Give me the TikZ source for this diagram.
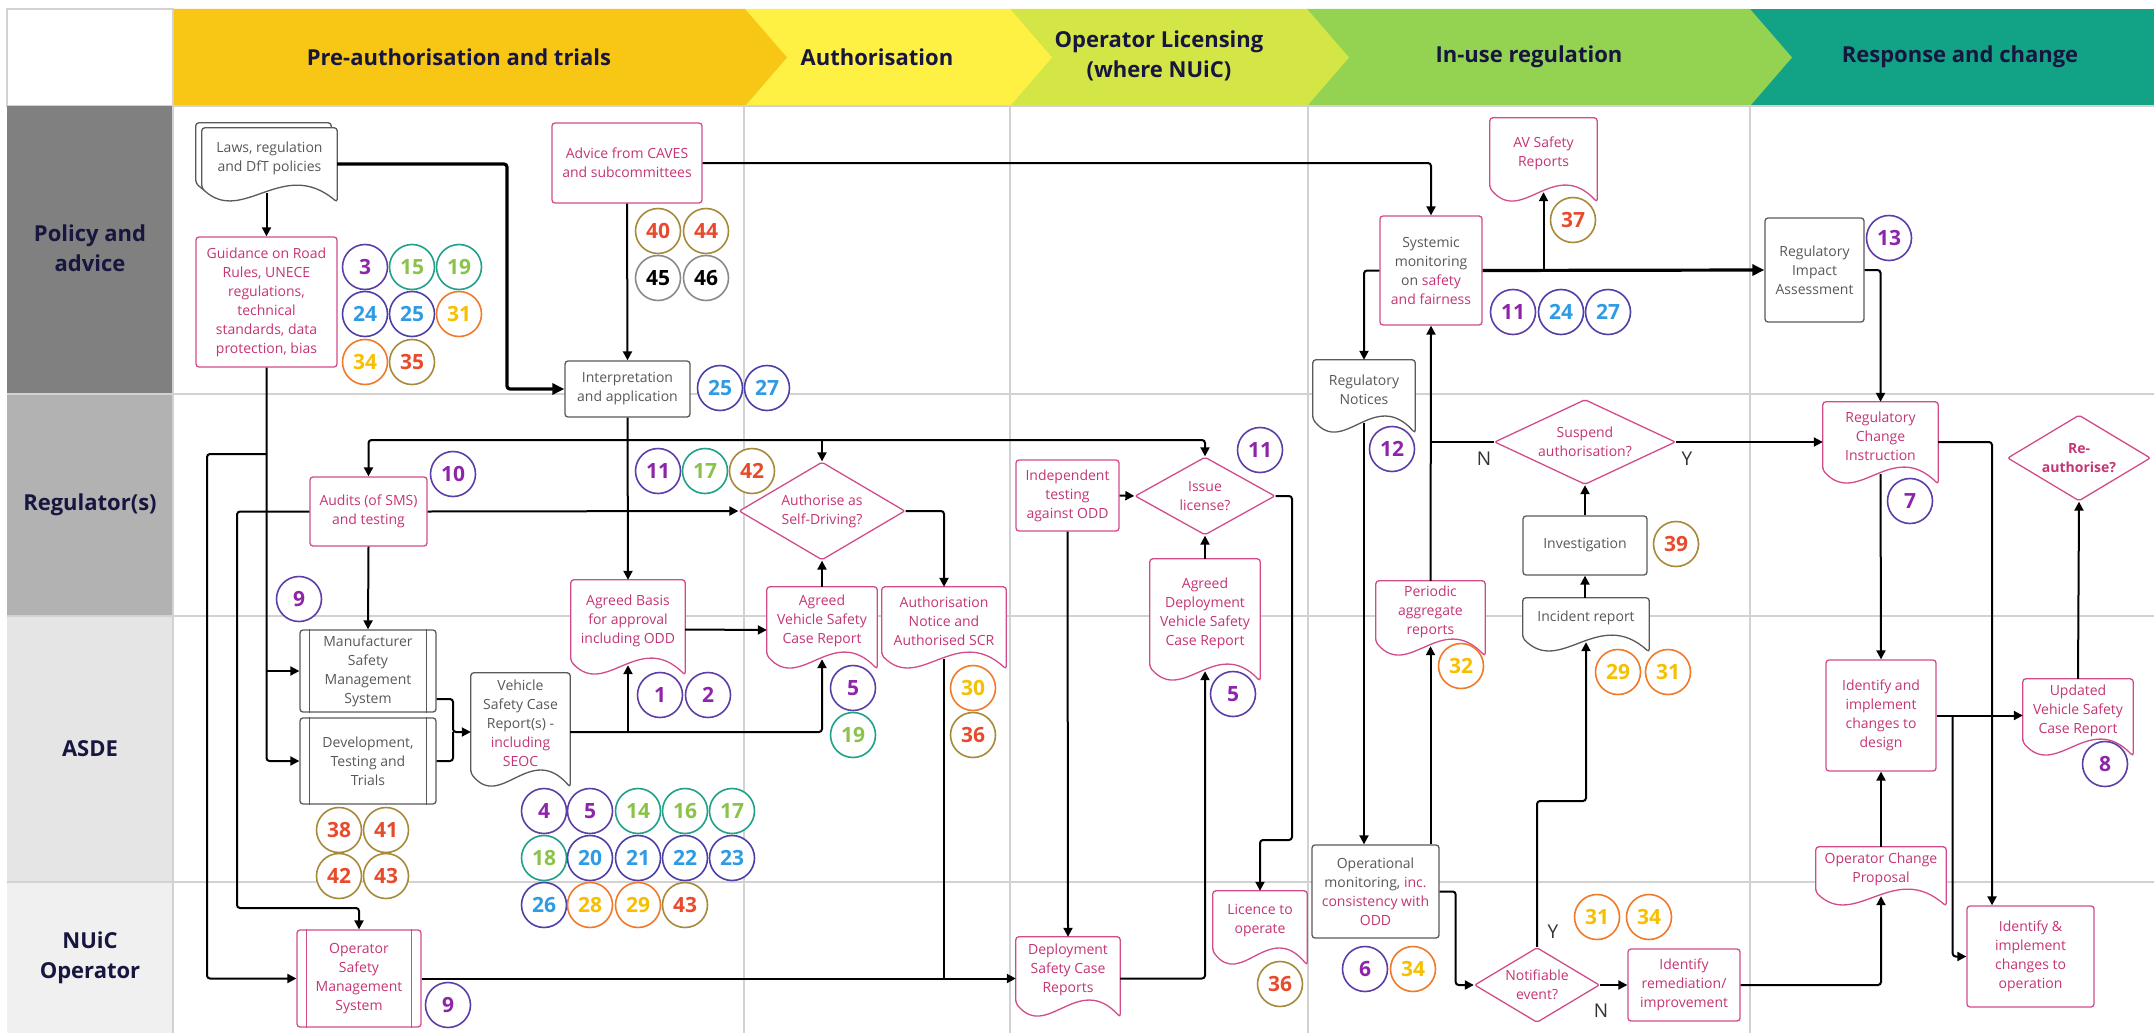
\documentclass[tikz,border=0pt]{standalone}
\usepackage{fontspec}
\setmainfont{Open Sans}
\usetikzlibrary{shapes.geometric,arrows.meta,calc,positioning}

\definecolor{hpreC}{HTML}{F8C614}
\definecolor{hauthC}{HTML}{FFF143}
\definecolor{hlicC}{HTML}{D4E646}
\definecolor{huseC}{HTML}{93D351}
\definecolor{hrespC}{HTML}{12A386}
\definecolor{navy}{HTML}{16163F}
\definecolor{pinkline}{HTML}{D24C8C}
\definecolor{pinktext}{HTML}{C43575}
\definecolor{greyline}{HTML}{5A5A5A}
\definecolor{greytext}{HTML}{585858}
\definecolor{gridC}{HTML}{D2D2D2}
\definecolor{cpurB}{HTML}{5B3EA8}
\definecolor{cpurT}{HTML}{8E24AA}
\definecolor{cgrnB}{HTML}{1EA08A}
\definecolor{cgrnT}{HTML}{8BC34A}
\definecolor{cbluB}{HTML}{4B3FA8}
\definecolor{cbluT}{HTML}{2F9BE3}
\definecolor{corgB}{HTML}{F07A2A}
\definecolor{corgT}{HTML}{F6C000}
\definecolor{credB}{HTML}{A68A3A}
\definecolor{credT}{HTML}{E84A2C}
\definecolor{cgryB}{HTML}{8A8A8A}

\pgfdeclarelayer{back}
\pgfdeclarelayer{shape}
\pgfsetlayers{back,shape,main}

\newcommand{\pk}[1]{\textcolor{pinktext}{#1}}
\newcommand{\docframe}[3][(0pt,0pt)]{%
  \begin{pgfonlayer}{shape}
  \draw[#2, fill=white, line width=1.3pt, rounded corners=3pt]
    ($(#3.south west)+#1$) -- ($(#3.north west)+#1$) -- ($(#3.north east)+#1$)
    -- ($(#3.south east)+(0pt,-14pt)+#1$)
    .. controls ($(#3.south west)!0.6!(#3.south east)+(0pt,32pt)+#1$)
    and ($(#3.south west)!0.3!(#3.south east)+(0pt,-38pt)+#1$) .. ($(#3.south west)+#1$) -- cycle;
  \end{pgfonlayer}}
\newcommand{\sidebars}[2]{\draw[#1, line width=1.3pt] ([xshift=10pt]#2.north west) -- ([xshift=10pt]#2.south west) ([xshift=-10pt]#2.north east) -- ([xshift=-10pt]#2.south east);}

\begin{document}
\begin{tikzpicture}[x=1pt, y=-1pt,
  sz/.style 2 args={minimum width=#1, minimum height=#2},
  box/.style={rectangle, rounded corners=3pt, draw=greyline, line width=1.3pt, fill=white, text=greytext, align=center, inner sep=1pt, font=\fontsize{14}{19}\selectfont},
  pbox/.style={box, draw=pinkline, text=pinktext},
  doc/.style={rectangle, align=center, inner sep=1pt, text=greytext, font=\fontsize{14}{19}\selectfont},
  pdoc/.style={doc, text=pinktext},
  dia/.style={diamond, draw=pinkline, line width=1.3pt, fill=white, inner sep=0pt, rounded corners=2pt},
  dtext/.style={text=pinktext, align=center, inner sep=0pt, font=\fontsize{14}{19}\selectfont},
  num/.style={circle, line width=1.6pt, fill=white, minimum size=45pt, inner sep=0pt, font=\bfseries\fontsize{21}{21}\selectfont},
  np/.style={num, draw=cpurB, text=cpurT},
  ng/.style={num, draw=cgrnB, text=cgrnT},
  nb/.style={num, draw=cbluB, text=cbluT},
  no/.style={num, draw=corgB, text=corgT},
  nr/.style={num, draw=credB, text=credT},
  nk/.style={num, draw=cgryB, text=black},
  head/.style={text=navy, align=center, font=\bfseries\fontsize{22}{30}\selectfont},
  yn/.style={text=black!80, font=\fontsize{19}{19}\selectfont},
  gridline/.style={gridC, line width=1.5pt},
  arr/.style={-{Triangle[length=9pt,width=9pt]}, line width=2pt, rounded corners=3pt},
  tarr/.style={-{Triangle[length=12pt,width=11pt]}, line width=3.2pt, rounded corners=3pt},
  ln/.style={line width=2pt, rounded corners=3pt}]

\useasboundingbox (0,0) rectangle (2154,1033);

\begin{pgfonlayer}{back}
\fill[white] (0,0) rectangle (2154,1033);
\fill[hrespC] (1750,9) rectangle (2154,106);
\fill[huseC] (1307,9) -- (1750,9) -- (1792,57.5) -- (1750,106) -- (1307,106) -- cycle;
\fill[hlicC] (1010,9) -- (1307,9) -- (1349,57.5) -- (1307,106) -- (1010,106) -- cycle;
\fill[hauthC] (745,9) -- (1010,9) -- (1052,57.5) -- (1010,106) -- (745,106) -- cycle;
\fill[hpreC] (174,9) -- (745,9) -- (787,57.5) -- (745,106) -- (174,106) -- cycle;
\draw[gridline] (7,9) rectangle (173,106);
\fill[black!50] (7,106) rectangle (173,394);
\fill[black!30] (7,394) rectangle (173,616);
\fill[black!10] (7,616) rectangle (173,882);
\fill[black!6] (7,882) rectangle (173,1033);
\draw[gridline] (173,106) -- (2154,106);
\draw[gridline] (7,394) -- (2154,394);
\draw[gridline] (7,616) -- (2154,616);
\draw[gridline] (7,882) -- (2154,882);
\draw[gridline] (173,106) -- (173,1033);
\draw[gridline] (744,106) -- (744,1033);
\draw[gridline] (1010,106) -- (1010,1033);
\draw[gridline] (1308,106) -- (1308,1033);
\draw[gridline] (1750,106) -- (1750,1033);
\end{pgfonlayer}

\node[head] (hpre) at (459,57) {Pre-authorisation and trials};
\node[head] (hauth) at (877,57) {Authorisation};
\node[head] (hlic) at (1159,56) {Operator Licensing\\(where NUiC)};
\node[head] (huse) at (1529,57) {In-use regulation};
\node[head] (hresp) at (1960,57) {Response and change};
\node[head] (lpolicy) at (90,248) {Policy and\\advice};
\node[head] (lreg) at (90,505) {Regulator(s)};
\node[head] (lasde) at (90,749) {ASDE};
\node[head] (lnuic) at (90,958) {NUiC\\Operator};

\node[doc, sz={135}{60}] (laws) at (269.5,158) {Laws, regulation\\and DfT policies};
\node[pbox, sz={141}{130}] (guidance) at (266.5,302) {Guidance on Road\\Rules, UNECE\\regulations,\\technical\\standards, data\\protection, bias};
\node[pbox, sz={150}{80}] (advice) at (627,163) {Advice from CAVES\\and subcommittees};
\node[box, sz={125}{56}] (interp) at (627.5,389) {Interpretation\\and application};
\node[pdoc, sz={107}{70}] (avsafety) at (1543.5,153) {AV Safety\\Reports};
\node[box, draw=pinkline, sz={102}{109}] (systemic) at (1431,270.5) {Systemic\\monitoring\\on \pk{safety}\\\pk{and fairness}};
\node[box, sz={99}{104}] (ria) at (1814.5,270) {Regulatory\\Impact\\Assessment};
\node[doc, sz={102}{59}] (regnotices) at (1364,389.5) {Regulatory\\Notices};

\node[pbox, sz={117}{69}] (audits) at (368.5,511.5) {Audits (of SMS)\\and testing};
\node[dia, sz={166}{98}, label={[dtext]center:Authorise as\\Self-Driving?}] (authorise) at (822,511) {};
\node[pbox, sz={103}{71}] (indep) at (1067.5,495.5) {Independent\\testing\\against ODD};
\node[dia, sz={140}{78}, label={[dtext]center:Issue\\license?}] (issue) at (1205,496) {};
\node[dia, sz={181}{85}, label={[dtext]center:Suspend\\authorisation?}] (suspend) at (1585,442) {};
\node[box, sz={124}{59}] (investig) at (1585,545.5) {Investigation};
\node[pdoc, sz={115}{68}] (regchange) at (1880.5,436) {Regulatory\\Change\\Instruction};
\node[dia, sz={143}{86}, label={[dtext, font=\bfseries\fontsize{14}{19}\selectfont]center:Re-\\authorise?}] (reauth) at (2079,458) {};

\node[box, sz={136}{82}] (mansms) at (368,671) {Manufacturer\\Safety\\Management\\System};
\node[box, sz={136}{86}] (devtest) at (368,761) {Development,\\Testing and\\Trials};
\node[doc, sz={99}{100}] (vscr) at (520.5,723) {Vehicle\\Safety Case\\Report(s) -\\\pk{including}\\\pk{SEOC}};
\node[pdoc, sz={114}{81}] (basis) at (628,620.5) {Agreed Basis\\for approval\\including ODD};
\node[pdoc, sz={110}{68}] (agreedvscr) at (822,621) {Agreed\\Vehicle Safety\\Case Report};
\node[pdoc, sz={124}{68}] (authnotice) at (944,621) {Authorisation\\Notice and\\Authorised SCR};
\node[pdoc, sz={110}{108}] (agreeddeploy) at (1205,613) {Agreed\\Deployment\\Vehicle Safety\\Case Report};
\node[pdoc, sz={109}{61}] (periodic) at (1430.5,611.5) {Periodic\\aggregate\\reports};
\node[doc, sz={126}{40}] (incident) at (1586,618) {Incident report};
\node[pbox, sz={110}{111}] (design) at (1881,715.5) {Identify and\\implement\\changes to\\design};
\node[pdoc, sz={110}{63}] (updated) at (2078,710.5) {Updated\\Vehicle Safety\\Case Report};

\node[pbox, sz={124}{97}] (opsms) at (359,978.5) {Operator\\Safety\\Management\\System};
\node[pdoc, sz={104}{66}] (deployscr) at (1068,970) {Deployment\\Safety Case\\Reports};
\node[pdoc, sz={94}{60}] (licence) at (1260,921) {Licence to\\operate};
\node[box, sz={127}{93}] (opmon) at (1375.5,891.5) {Operational\\monitoring, \pk{inc.}\\\pk{consistency with}\\\pk{ODD}};
\node[dia, sz={125}{75}, label={[dtext]center:Notifiable\\event?}] (notifiable) at (1537,985) {};
\node[pbox, sz={112}{72}] (remed) at (1684,985) {Identify\\remediation/\\improvement};
\node[pdoc, sz={130}{45}] (opchange) at (1881,869.5) {Operator Change\\Proposal};
\node[pbox, sz={127}{101}] (idop) at (2030.5,956.5) {Identify \&\\implement\\changes to\\operation};

\docframe[(-6pt,5pt)]{greyline}{laws}
\docframe{greyline}{laws}
\docframe{pinkline}{avsafety}
\docframe{greyline}{regnotices}
\docframe{pinkline}{regchange}
\docframe{greyline}{vscr}
\docframe{pinkline}{basis}
\docframe{pinkline}{agreedvscr}
\docframe{pinkline}{authnotice}
\docframe{pinkline}{agreeddeploy}
\docframe{pinkline}{periodic}
\docframe{greyline}{incident}
\docframe{pinkline}{updated}
\docframe{pinkline}{deployscr}
\docframe{pinkline}{licence}
\docframe{pinkline}{opchange}
\sidebars{greyline}{mansms}
\sidebars{greyline}{devtest}
\sidebars{pinkline}{opsms}

\foreach \x/\y/\t/\s [count=\k] in {
  365/267/3/np, 412/267/15/ng, 459/267/19/ng,
  365/314/24/nb, 412/314/25/nb, 459/314/31/no,
  365/362/34/no, 412/362/35/nr,
  658/231/40/nr, 706/231/44/nr, 658/278/45/nk, 706/278/46/nk,
  720/388/25/nb, 767/388/27/nb, 1573/220/37/nr,
  1513/312/11/np, 1561/312/24/nb, 1608/312/27/nb,
  1889/238/13/np, 1392/449/12/np,
  453/474/10/np, 299/599/9/np,
  658/471/11/np, 705/471/17/ng, 752/471/42/nr,
  1260/450/11/np, 1676/544/39/nr, 1910/501/7/np,
  339/830/38/nr, 386/830/41/nr, 339/876/42/nr, 386/876/43/nr,
  544/811/4/np, 590/811/5/np, 638/811/14/ng, 685/811/16/ng, 732/811/17/ng,
  544/858/18/ng, 590/858/20/nb, 638/858/21/nb, 685/858/22/nb, 732/858/23/nb,
  544/905/26/nb, 590/905/28/no, 638/905/29/no, 685/905/43/nr,
  660/695/1/np, 708/695/2/np,
  853/688/5/np, 853/735/19/ng, 973/688/30/no, 973/735/36/nr,
  1233/694/5/np, 1461/666/32/no, 1618/672/29/no, 1668/672/31/no,
  2105/764/8/np, 448/1005/9/np, 1280/984/36/nr,
  1365/969/6/np, 1413/969/34/no, 1597/917/31/no, 1649/917/34/no}
  \node[\s] (num\k) at (\x,\y) {\t};

\coordinate (jint) at (627,440);
\coordinate (jg) at (266.5,454);
\coordinate (jm) at (453,732);
\coordinate (jv) at (628,732);
\coordinate (jn) at (1586,801);

\draw[arr] ($(guidance.north |- laws.south)+(0pt,-5pt)$) -- (guidance.north);
\draw[tarr] ([yshift=-6pt]laws.east) -| (507,389) -- (interp.west);
\draw[arr] (advice.south) -- (interp.north);
\draw[arr] (advice.east) -| (systemic.north);
\draw[tarr] (systemic.east) -- (ria.west);
\draw[arr] (avsafety.south |- systemic.east) -- ([yshift=-4pt]avsafety.south);
\draw[arr] (systemic.west) -| (regnotices.north);
\draw[arr] ([yshift=-4pt]regnotices.south) -- (regnotices.south |- opmon.north);
\draw[arr] (periodic.south |- opmon.north) -- ([yshift=-4pt]periodic.south);
\draw[arr] (periodic.north) -- (systemic.south);
\draw[ln] (suspend.west) -- (suspend.west -| periodic.north);
\draw[arr] (suspend.east) -- (suspend.east -| regchange.west);
\draw[arr] (investig.north) -- (suspend.south);
\draw[arr] (investig.south |- incident.north) -- (investig.south);
\draw[arr] (notifiable.north) |- (jn) -- ([yshift=-4pt]incident.south);
\draw[arr] (notifiable.east) -- (remed.west);
\draw[arr] (opmon.east) -- ++(16,0) |- (notifiable.west);
\draw[arr] (remed.east) -| ([yshift=-4pt]opchange.south);
\draw[arr] (opchange.north) -- (design.south);
\draw[arr] (ria.east) -| (regchange.north);
\draw[arr] ([yshift=-4pt]regchange.south) -- (design.north);
\draw[arr] (suspend.east -| regchange.east) -| ([xshift=-38.5pt]idop.north);
\draw[arr] (design.east) -- (design.east -| updated.west);
\draw[arr] ([xshift=16pt]design.east) |- (idop.west);
\draw[arr] (updated.north) -- (reauth.south);

\draw[arr] (interp.south) -- (basis.north);
\draw[arr] (jint) -| (audits.north);
\draw[arr] (jint) -| (issue.north);
\draw[arr] (authorise.north |- jint) -- (authorise.north);
\draw[arr] (audits.east) -- (authorise.west);
\draw[arr] (audits.south) -- (mansms.north);
\draw[arr] (audits.west) -| (237,908) -| (opsms.north);
\draw[arr] (guidance.south) -- (guidance.south |- devtest.west) -- (devtest.west);
\draw[arr] (guidance.south |- mansms.west) -- (mansms.west);
\draw[arr] (jg) -| (207,978.5) -- (opsms.west);
\draw[arr] ([yshift=-28pt]mansms.east) -| (jm) -- ([yshift=-9pt]vscr.west);
\draw[ln] (devtest.east) -| (jm);
\draw[arr] ([yshift=-9pt]vscr.east) -| ([yshift=-4pt]agreedvscr.south);
\draw[arr] (jv) -- ([yshift=-4pt]basis.south);
\draw[arr] ([yshift=-9pt]basis.east) -- ([yshift=-9pt]agreedvscr.west);
\draw[arr] (agreedvscr.north) -- (authorise.south);
\draw[arr] (authorise.east) -| (authnotice.north);
\draw[ln] ([yshift=-4pt]authnotice.south) -- (authnotice.south |- opsms.east);
\draw[arr] (opsms.east) -- (deployscr.west |- opsms.east);
\draw[arr] (indep.east) -- (issue.west);
\draw[arr] (indep.south) -- (deployscr.north);
\draw[arr] (deployscr.east |- opsms.east) -| ([yshift=-4pt]agreeddeploy.south);
\draw[arr] (agreeddeploy.north) -- (issue.south);
\draw[arr] (issue.east) -| (1292,840) -| (licence.north);

\node[yn] (nsusp) at (1484,459) {N};
\node[yn] (ysusp) at (1687,459) {Y};
\node[yn] (ynot) at (1553,932) {Y};
\node[yn] (nnot) at (1601,1011) {N};

\end{tikzpicture}
\end{document}
